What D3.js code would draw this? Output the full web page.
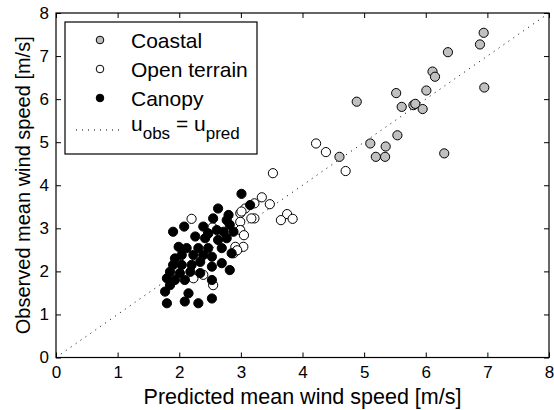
<!DOCTYPE html>
<html>
<head>
<meta charset="utf-8">
<script src="https://cdn.jsdelivr.net/npm/d3@7"></script>
<style>
  body { margin: 0; background: #fff; }
  svg text { font-family: "Liberation Sans", Arial, Helvetica, sans-serif; }
</style>
</head>
<body>
<div id="chart"></div>
<script>
// points are [predicted, observed] in m/s
var coastal = [
  [6.94, 7.54], [6.88, 7.27], [6.36, 7.09], [6.11, 6.64], [6.15, 6.52],
  [6.95, 6.27], [6.01, 6.20], [5.52, 6.14], [4.88, 5.94], [5.61, 5.82],
  [5.80, 5.86], [5.83, 5.89], [5.95, 5.77], [5.54, 5.16], [5.10, 4.97],
  [5.35, 4.90], [5.19, 4.66], [5.34, 4.66], [6.30, 4.74], [4.60, 4.66]
]
var openTerrain = [
  [4.22, 4.97], [4.38, 4.77], [4.70, 4.33], [3.52, 4.28], [3.34, 3.72],
  [3.22, 3.58], [3.47, 3.56], [3.07, 3.46], [2.99, 3.35], [3.22, 3.23],
  [3.75, 3.33], [3.65, 3.19], [3.84, 3.22], [2.99, 3.15], [2.99, 2.96],
  [3.05, 2.84], [2.20, 3.22], [2.54, 3.02], [3.04, 2.57], [2.91, 2.57],
  [3.01, 3.39], [2.47, 2.88], [2.88, 2.42], [2.23, 1.84], [2.39, 1.92],
  [2.55, 1.68], [3.17, 3.23], [2.94, 2.49]
]
var canopy = [
  [3.01, 3.80], [3.15, 3.54], [2.63, 3.46], [2.80, 3.31], [2.77, 3.19],
  [2.82, 3.08], [2.55, 3.23], [2.39, 3.04], [2.08, 3.04], [1.90, 2.92],
  [2.61, 2.96], [2.72, 2.92], [2.47, 2.88], [2.26, 2.81], [2.42, 2.77],
  [2.63, 2.73], [2.77, 2.77], [1.99, 2.57], [2.12, 2.54], [2.31, 2.54],
  [2.47, 2.54], [2.69, 2.54], [2.85, 2.42], [1.93, 2.30], [2.04, 2.38],
  [2.23, 2.38], [2.39, 2.38], [2.53, 2.34], [1.90, 2.15], [2.04, 2.15],
  [2.20, 2.15], [2.34, 2.22], [2.53, 2.11], [2.69, 2.19], [2.82, 2.03],
  [1.85, 1.99], [2.01, 1.96], [2.18, 1.99], [2.34, 1.96], [1.80, 1.84],
  [1.93, 1.80], [2.09, 1.80], [1.77, 1.53], [2.15, 1.49], [2.53, 1.37],
  [1.80, 1.26], [2.09, 1.30], [2.31, 1.26], [1.85, 1.68], [2.53, 1.80],
  [2.88, 2.92]
]
var xTicks = [0, 1, 2, 3, 4, 5, 6, 7, 8]
var yTicks = [0, 1, 2, 3, 4, 5, 6, 7, 8]

var margin = {top: 13, right: 5, bottom: 52.5, left: 56}
    width = 554 - margin.left - margin.right
    height = 410 - margin.top - margin.bottom

var svg = d3.select("#chart")
  .append("svg")
    .attr("width", 554)
    .attr("height", 410)
  .append("g")
    .attr("transform", "translate(" + margin.left + "," + margin.top + ")")

var x = d3.scaleLinear().domain([0, 8]).range([0, width])
var y = d3.scaleLinear().domain([0, 8]).range([height, 0])

// inward ticks on all four sides, matlab style
function styleAxis(g) {
  g.select(".domain").remove()
  g.selectAll("line").attr("stroke", "#000").attr("stroke-width", 1)
  g.selectAll("text").attr("font-size", 17).attr("fill", "#000")
}
svg.append("g")
    .attr("transform", "translate(0," + height + ")")
    .call(d3.axisBottom(x).tickValues(xTicks).tickSizeInner(-5).tickSizeOuter(0).tickPadding(8))
    .call(styleAxis)
svg.append("g")
    .call(d3.axisTop(x).tickValues(xTicks).tickSizeInner(-5).tickSizeOuter(0).tickFormat(""))
    .call(styleAxis)
svg.append("g")
    .call(d3.axisLeft(y).tickValues(yTicks).tickSizeInner(-5).tickSizeOuter(0).tickPadding(7))
    .call(styleAxis)
svg.append("g")
    .attr("transform", "translate(" + width + ",0)")
    .call(d3.axisRight(y).tickValues(yTicks).tickSizeInner(-5).tickSizeOuter(0).tickFormat(""))
    .call(styleAxis)

// 1:1 line
svg.append("line")
    .attr("x1", x(0)).attr("y1", y(0))
    .attr("x2", x(8)).attr("y2", y(8))
    .attr("stroke", "#000")
    .attr("stroke-width", 1)
    .attr("stroke-dasharray", "1,5")

var r = 4.6
function drawPoints(data, fill) {
  svg.append("g")
    .selectAll("circle")
    .data(data)
    .enter()
    .append("circle")
      .attr("cx", function(d) { return x(d[0]) })
      .attr("cy", function(d) { return y(d[1]) })
      .attr("r", r)
      .attr("fill", fill)
      .attr("stroke", "#000")
      .attr("stroke-width", 1)
}
drawPoints(coastal, "#c0c0c0")
drawPoints(openTerrain, "#fff")
drawPoints(canopy, "#000")

// frame
svg.append("rect")
    .attr("width", width)
    .attr("height", height)
    .attr("fill", "none")
    .attr("stroke", "#000")
    .attr("stroke-width", 1.2)

// axis titles
svg.append("text")
    .attr("x", width / 2)
    .attr("y", height + 46)
    .attr("text-anchor", "middle")
    .attr("font-size", 21.5)
    .text("Predicted mean wind speed [m/s]")
svg.append("text")
    .attr("transform", "translate(-26," + (height / 2) + ") rotate(-90)")
    .attr("text-anchor", "middle")
    .attr("font-size", 20)
    .text("Observed mean wind speed [m/s]")

// legend
var legend = svg.append("g").attr("transform", "translate(9,9)")
legend.append("rect")
    .attr("width", 192)
    .attr("height", 132)
    .attr("fill", "#fff")
    .attr("stroke", "#000")
    .attr("stroke-width", 1.2)

var legendItems = [
  {label: "Coastal", fill: "#c0c0c0"},
  {label: "Open terrain", fill: "#fff"},
  {label: "Canopy", fill: "#000"}
]
legendItems.forEach(function(item, i) {
  var cy = 18 + i * 29
  legend.append("circle")
      .attr("cx", 35).attr("cy", cy).attr("r", 3.8)
      .attr("fill", item.fill)
      .attr("stroke", "#000")
      .attr("stroke-width", 1)
  legend.append("text")
      .attr("x", 66).attr("y", cy + 7.5)
      .attr("font-size", 21)
      .text(item.label)
})
legend.append("line")
    .attr("x1", 11).attr("x2", 58)
    .attr("y1", 108).attr("y2", 108)
    .attr("stroke", "#000")
    .attr("stroke-dasharray", "1,5")
var eq = legend.append("text")
    .attr("x", 66).attr("y", 109)
    .attr("font-size", 21)
eq.append("tspan").text("u")
eq.append("tspan").attr("dy", 8).attr("font-size", 17).text("obs")
eq.append("tspan").attr("dy", -8).text(" = u")
eq.append("tspan").attr("dy", 8).attr("font-size", 17).text("pred")
</script>
</body>
</html>
